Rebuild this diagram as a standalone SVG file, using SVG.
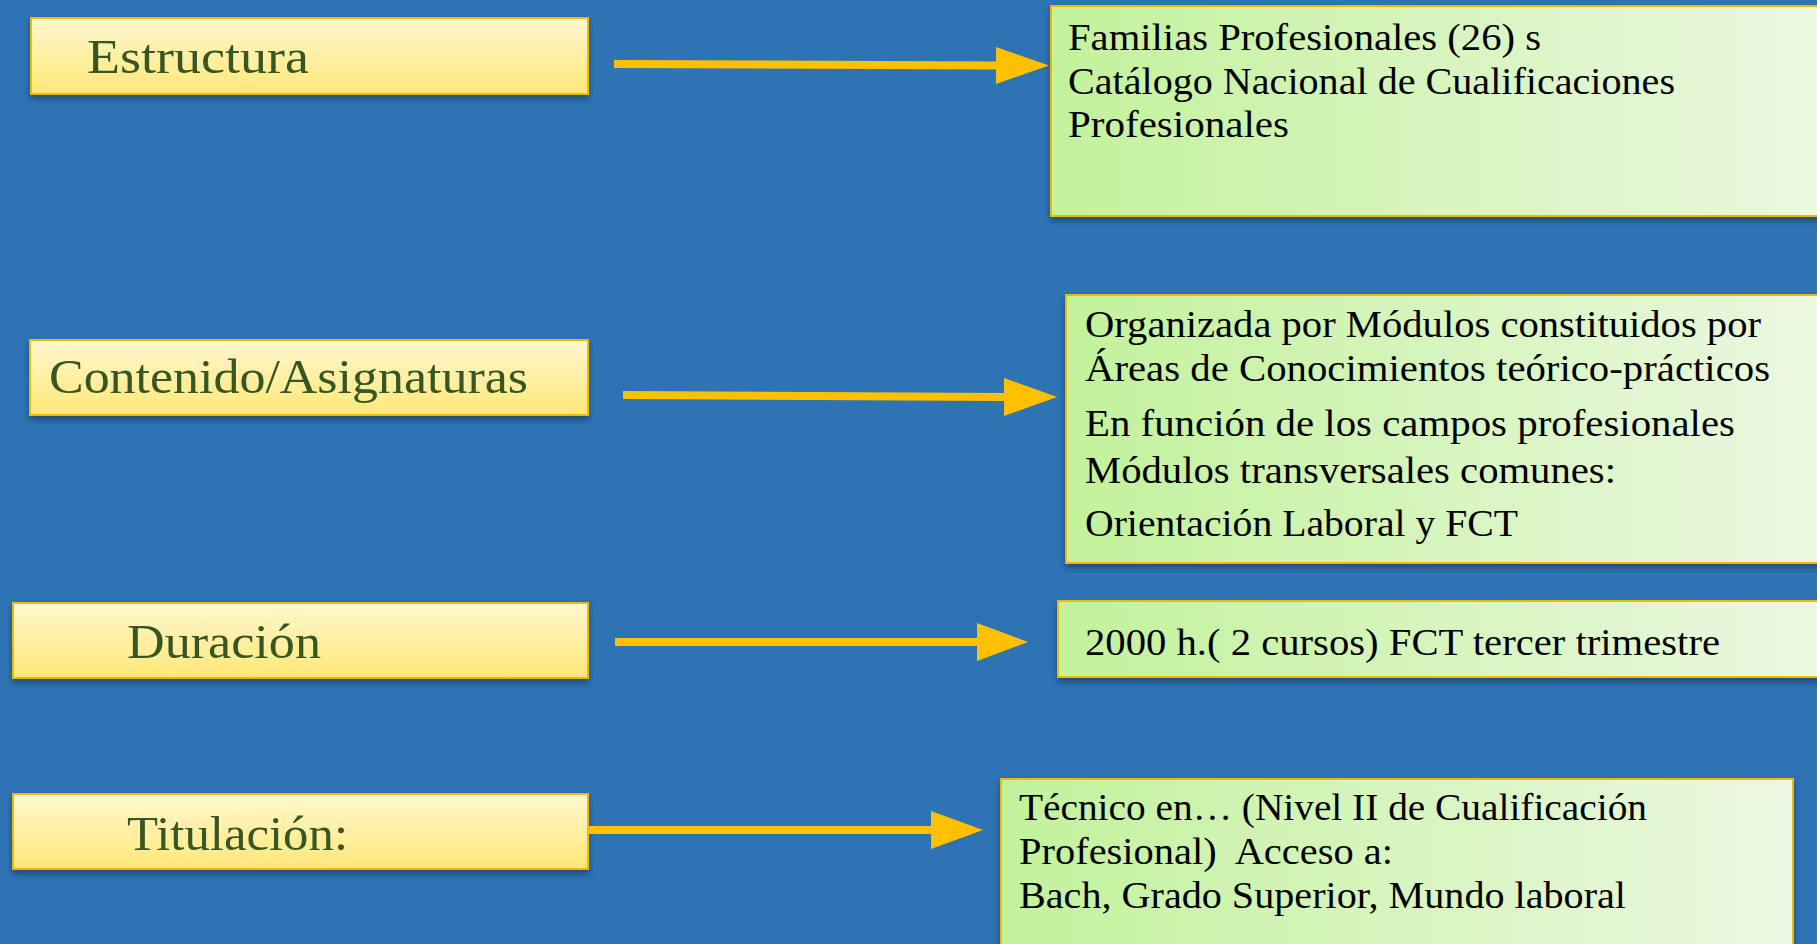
<svg xmlns="http://www.w3.org/2000/svg" width="1817" height="944" viewBox="0 0 1817 944">
<defs>
<linearGradient id="gy" x1="0" y1="0" x2="0" y2="1"><stop offset="0" stop-color="#FFF7CF"/><stop offset="1" stop-color="#FFE878"/></linearGradient>
<linearGradient id="gg" x1="0" y1="0" x2="1" y2="0"><stop offset="0" stop-color="#C2F29B"/><stop offset="1" stop-color="#ECF8E2"/></linearGradient>
<filter id="sh" x="-5%" y="-20%" width="110%" height="150%"><feDropShadow dx="0" dy="4" stdDeviation="3" flood-color="#0B2A4A" flood-opacity="0.55"/></filter>
</defs>
<style>
.lbox{fill:url(#gy);stroke:#F2B800;stroke-width:2;filter:url(#sh)}
.rbox{fill:url(#gg);stroke:#F2B800;stroke-width:2;filter:url(#sh)}
.lt{font-family:"Liberation Serif","DejaVu Serif",serif;font-size:49px;fill:#375623}
.rt{font-family:"Liberation Serif","DejaVu Serif",serif;font-size:37px;fill:#000;white-space:pre}
.ar{stroke:#FFC000;stroke-width:8;fill:none}
.ah{fill:#FFC000}
</style>
<rect width="1817" height="944" fill="#2E74B5"/>
<g id="n-estructura"><rect class="lbox" x="31" y="18" width="557" height="76"/><text class="lt" x="87" y="73" textLength="222" lengthAdjust="spacingAndGlyphs">Estructura</text></g>
<g id="n-contenido"><rect class="lbox" x="30" y="340" width="558" height="75"/><text class="lt" x="49" y="393" textLength="479" lengthAdjust="spacingAndGlyphs">Contenido/Asignaturas</text></g>
<g id="n-duracion"><rect class="lbox" x="13" y="603" width="575" height="75"/><text class="lt" x="127" y="658" textLength="194" lengthAdjust="spacingAndGlyphs">Duración</text></g>
<g id="n-titulacion"><rect class="lbox" x="13" y="794" width="575" height="75"/><text class="lt" x="127" y="850" textLength="221" lengthAdjust="spacingAndGlyphs">Titulación:</text></g>
<g id="n-familias"><rect class="rbox" x="1051" y="6" width="780" height="210"/>
<text class="rt" x="1068" y="50" textLength="473" lengthAdjust="spacingAndGlyphs">Familias Profesionales (26) s</text>
<text class="rt" x="1068" y="94" textLength="607" lengthAdjust="spacingAndGlyphs">Catálogo Nacional de Cualificaciones</text>
<text class="rt" x="1068" y="137" textLength="221" lengthAdjust="spacingAndGlyphs">Profesionales</text></g>
<g id="n-modulos"><rect class="rbox" x="1066" y="295" width="765" height="268"/>
<text class="rt" x="1085" y="337" textLength="676" lengthAdjust="spacingAndGlyphs">Organizada por Módulos constituidos por</text>
<text class="rt" x="1085" y="381" textLength="685" lengthAdjust="spacingAndGlyphs">Áreas de Conocimientos teórico-prácticos</text>
<text class="rt" x="1085" y="436" textLength="650" lengthAdjust="spacingAndGlyphs">En función de los campos profesionales</text>
<text class="rt" x="1085" y="483" textLength="531" lengthAdjust="spacingAndGlyphs">Módulos transversales comunes:</text>
<text class="rt" x="1085" y="536" textLength="433" lengthAdjust="spacingAndGlyphs">Orientación Laboral y FCT</text></g>
<g id="n-horas"><rect class="rbox" x="1058" y="601" width="773" height="76"/>
<text class="rt" x="1085" y="655" textLength="635" lengthAdjust="spacingAndGlyphs">2000 h.( 2 cursos) FCT tercer trimestre</text></g>
<g id="n-tecnico"><rect class="rbox" x="1001" y="779" width="792" height="180"/>
<text class="rt" x="1019" y="820" textLength="628" lengthAdjust="spacingAndGlyphs">Técnico en… (Nivel II de Cualificación</text>
<text class="rt" x="1019" y="864" textLength="374" lengthAdjust="spacingAndGlyphs">Profesional)  Acceso a:</text>
<text class="rt" x="1019" y="908" textLength="607" lengthAdjust="spacingAndGlyphs">Bach, Grado Superior, Mundo laboral</text></g>
<g id="connectors">
<line class="ar" x1="614" y1="64" x2="998" y2="65.5"/><polygon class="ah" points="996,47 1049,65.5 996,84"/>
<line class="ar" x1="623" y1="395" x2="1006" y2="397"/><polygon class="ah" points="1004,378 1057,397 1004,416"/>
<line class="ar" x1="615" y1="642" x2="979" y2="642"/><polygon class="ah" points="977,623 1028,642 977,661"/>
<line class="ar" x1="588" y1="830" x2="933" y2="830"/><polygon class="ah" points="931,811 983,830 931,849"/>
</g>
</svg>
